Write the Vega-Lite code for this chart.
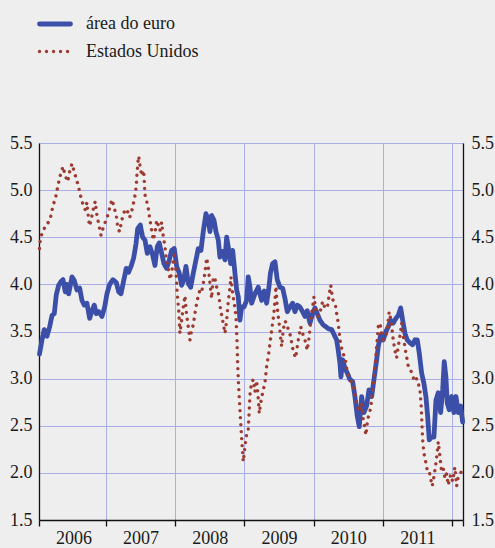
{
  "$schema": "https://vega.github.io/schema/vega-lite/v6.json",
  "width": 424,
  "height": 377,
  "autosize": "none",
  "padding": {"left": 39, "top": 143, "right": 32, "bottom": 28},
  "background": "#eeeeee",
  "config": {
    "view": {"stroke": null},
    "axis": {"labelFont": "Liberation Serif, Times New Roman, DejaVu Serif, serif", "labelFontSize": 18, "labelColor": "#1a1a1a", "domainColor": "#111111", "domainWidth": 1.3, "gridColor": "#a9aee6", "gridWidth": 1, "tickColor": "#111111", "title": null},
    "legend": {"labelFont": "Liberation Serif, Times New Roman, DejaVu Serif, serif", "labelFontSize": 18, "labelColor": "#1a1a1a"}
  },
  "datasets": {
    "d": [
      {"series":"área do euro","year":2006.039,"value":3.26},
      {"series":"área do euro","year":2006.075,"value":3.41},
      {"series":"área do euro","year":2006.108,"value":3.52},
      {"series":"área do euro","year":2006.147,"value":3.45},
      {"series":"área do euro","year":2006.186,"value":3.55},
      {"series":"área do euro","year":2006.220,"value":3.67},
      {"series":"área do euro","year":2006.253,"value":3.69},
      {"series":"área do euro","year":2006.282,"value":3.89},
      {"series":"área do euro","year":2006.316,"value":3.99},
      {"series":"área do euro","year":2006.350,"value":4.03},
      {"series":"área do euro","year":2006.379,"value":4.05},
      {"series":"área do euro","year":2006.412,"value":3.92},
      {"series":"área do euro","year":2006.436,"value":4.00},
      {"series":"área do euro","year":2006.461,"value":3.90},
      {"series":"área do euro","year":2006.509,"value":4.08},
      {"series":"área do euro","year":2006.542,"value":4.04},
      {"series":"área do euro","year":2006.581,"value":3.94},
      {"series":"área do euro","year":2006.620,"value":3.96},
      {"series":"área do euro","year":2006.653,"value":3.83},
      {"series":"área do euro","year":2006.686,"value":3.78},
      {"series":"área do euro","year":2006.725,"value":3.80},
      {"series":"área do euro","year":2006.764,"value":3.64},
      {"series":"área do euro","year":2006.798,"value":3.72},
      {"series":"área do euro","year":2006.831,"value":3.78},
      {"series":"área do euro","year":2006.860,"value":3.69},
      {"series":"área do euro","year":2006.895,"value":3.71},
      {"series":"área do euro","year":2006.942,"value":3.66},
      {"series":"área do euro","year":2006.981,"value":3.76},
      {"series":"área do euro","year":2007.014,"value":3.90},
      {"series":"área do euro","year":2007.053,"value":4.00},
      {"series":"área do euro","year":2007.101,"value":4.05},
      {"series":"área do euro","year":2007.149,"value":4.02},
      {"series":"área do euro","year":2007.184,"value":3.92},
      {"series":"área do euro","year":2007.217,"value":3.90},
      {"series":"área do euro","year":2007.256,"value":4.04},
      {"series":"área do euro","year":2007.293,"value":4.17},
      {"series":"área do euro","year":2007.328,"value":4.13},
      {"series":"área do euro","year":2007.366,"value":4.20},
      {"series":"área do euro","year":2007.400,"value":4.28},
      {"series":"área do euro","year":2007.434,"value":4.43},
      {"series":"área do euro","year":2007.458,"value":4.59},
      {"series":"área do euro","year":2007.496,"value":4.63},
      {"series":"área do euro","year":2007.530,"value":4.50},
      {"series":"área do euro","year":2007.564,"value":4.47},
      {"series":"área do euro","year":2007.597,"value":4.33},
      {"series":"área do euro","year":2007.636,"value":4.40},
      {"series":"área do euro","year":2007.675,"value":4.31},
      {"series":"área do euro","year":2007.708,"value":4.20},
      {"series":"área do euro","year":2007.741,"value":4.40},
      {"series":"área do euro","year":2007.770,"value":4.44},
      {"series":"área do euro","year":2007.805,"value":4.33},
      {"series":"área do euro","year":2007.838,"value":4.22},
      {"series":"área do euro","year":2007.877,"value":4.17},
      {"series":"área do euro","year":2007.915,"value":4.26},
      {"series":"área do euro","year":2007.949,"value":4.36},
      {"series":"área do euro","year":2007.987,"value":4.38},
      {"series":"área do euro","year":2008.022,"value":4.19},
      {"series":"área do euro","year":2008.059,"value":4.12},
      {"series":"área do euro","year":2008.094,"value":3.99},
      {"series":"área do euro","year":2008.127,"value":4.06},
      {"series":"área do euro","year":2008.156,"value":4.19},
      {"series":"área do euro","year":2008.189,"value":4.01},
      {"series":"área do euro","year":2008.224,"value":3.97},
      {"series":"área do euro","year":2008.262,"value":4.12},
      {"series":"área do euro","year":2008.301,"value":4.26},
      {"series":"área do euro","year":2008.334,"value":4.38},
      {"series":"área do euro","year":2008.373,"value":4.36},
      {"series":"área do euro","year":2008.406,"value":4.56},
      {"series":"área do euro","year":2008.445,"value":4.75},
      {"series":"área do euro","year":2008.478,"value":4.68},
      {"series":"área do euro","year":2008.503,"value":4.56},
      {"series":"área do euro","year":2008.527,"value":4.73},
      {"series":"área do euro","year":2008.561,"value":4.68},
      {"series":"área do euro","year":2008.590,"value":4.56},
      {"series":"área do euro","year":2008.623,"value":4.47},
      {"series":"área do euro","year":2008.647,"value":4.29},
      {"series":"área do euro","year":2008.686,"value":4.35},
      {"series":"área do euro","year":2008.720,"value":4.26},
      {"series":"área do euro","year":2008.744,"value":4.50},
      {"series":"área do euro","year":2008.767,"value":4.40},
      {"series":"área do euro","year":2008.802,"value":4.22},
      {"series":"área do euro","year":2008.831,"value":4.36},
      {"series":"área do euro","year":2008.864,"value":4.12},
      {"series":"área do euro","year":2008.889,"value":3.94},
      {"series":"área do euro","year":2008.912,"value":3.87},
      {"series":"área do euro","year":2008.936,"value":3.62},
      {"series":"área do euro","year":2008.961,"value":3.76},
      {"series":"área do euro","year":2008.994,"value":3.76},
      {"series":"área do euro","year":2009.033,"value":3.83},
      {"series":"área do euro","year":2009.056,"value":4.08},
      {"series":"área do euro","year":2009.081,"value":3.97},
      {"series":"área do euro","year":2009.105,"value":3.80},
      {"series":"área do euro","year":2009.153,"value":3.90},
      {"series":"área do euro","year":2009.201,"value":3.97},
      {"series":"área do euro","year":2009.250,"value":3.83},
      {"series":"área do euro","year":2009.288,"value":3.93},
      {"series":"área do euro","year":2009.322,"value":3.80},
      {"series":"área do euro","year":2009.355,"value":3.97},
      {"series":"área do euro","year":2009.377,"value":4.12},
      {"series":"área do euro","year":2009.408,"value":4.22},
      {"series":"área do euro","year":2009.442,"value":4.24},
      {"series":"área do euro","year":2009.475,"value":4.05},
      {"series":"área do euro","year":2009.514,"value":3.97},
      {"series":"área do euro","year":2009.553,"value":3.96},
      {"series":"área do euro","year":2009.587,"value":3.85},
      {"series":"área do euro","year":2009.620,"value":3.71},
      {"series":"área do euro","year":2009.659,"value":3.76},
      {"series":"área do euro","year":2009.698,"value":3.80},
      {"series":"área do euro","year":2009.731,"value":3.71},
      {"series":"área do euro","year":2009.765,"value":3.78},
      {"series":"área do euro","year":2009.803,"value":3.76},
      {"series":"área do euro","year":2009.842,"value":3.71},
      {"series":"área do euro","year":2009.876,"value":3.66},
      {"series":"área do euro","year":2009.909,"value":3.72},
      {"series":"área do euro","year":2009.948,"value":3.59},
      {"series":"área do euro","year":2009.987,"value":3.69},
      {"series":"área do euro","year":2010.020,"value":3.75},
      {"series":"área do euro","year":2010.054,"value":3.69},
      {"series":"área do euro","year":2010.092,"value":3.62},
      {"series":"área do euro","year":2010.140,"value":3.57},
      {"series":"área do euro","year":2010.179,"value":3.55},
      {"series":"área do euro","year":2010.213,"value":3.53},
      {"series":"área do euro","year":2010.262,"value":3.52},
      {"series":"área do euro","year":2010.295,"value":3.47},
      {"series":"área do euro","year":2010.334,"value":3.41},
      {"series":"área do euro","year":2010.357,"value":3.30},
      {"series":"área do euro","year":2010.382,"value":3.16},
      {"series":"área do euro","year":2010.396,"value":3.02},
      {"series":"área do euro","year":2010.421,"value":3.20},
      {"series":"área do euro","year":2010.454,"value":3.11},
      {"series":"área do euro","year":2010.487,"value":3.06},
      {"series":"área do euro","year":2010.526,"value":2.99},
      {"series":"área do euro","year":2010.565,"value":2.97},
      {"series":"área do euro","year":2010.598,"value":2.81},
      {"series":"área do euro","year":2010.632,"value":2.60},
      {"series":"área do euro","year":2010.661,"value":2.49},
      {"series":"área do euro","year":2010.695,"value":2.81},
      {"series":"área do euro","year":2010.728,"value":2.64},
      {"series":"área do euro","year":2010.767,"value":2.71},
      {"series":"área do euro","year":2010.801,"value":2.88},
      {"series":"área do euro","year":2010.840,"value":2.81},
      {"series":"área do euro","year":2010.873,"value":2.99},
      {"series":"área do euro","year":2010.912,"value":3.20},
      {"series":"área do euro","year":2010.935,"value":3.34},
      {"series":"área do euro","year":2010.970,"value":3.46},
      {"series":"área do euro","year":2011.007,"value":3.41},
      {"series":"área do euro","year":2011.046,"value":3.50},
      {"series":"área do euro","year":2011.080,"value":3.55},
      {"series":"área do euro","year":2011.114,"value":3.62},
      {"series":"área do euro","year":2011.152,"value":3.59},
      {"series":"área do euro","year":2011.191,"value":3.64},
      {"series":"área do euro","year":2011.224,"value":3.67},
      {"series":"área do euro","year":2011.259,"value":3.75},
      {"series":"área do euro","year":2011.288,"value":3.62},
      {"series":"área do euro","year":2011.321,"value":3.48},
      {"series":"área do euro","year":2011.354,"value":3.41},
      {"series":"área do euro","year":2011.393,"value":3.38},
      {"series":"área do euro","year":2011.432,"value":3.36},
      {"series":"área do euro","year":2011.465,"value":3.41},
      {"series":"área do euro","year":2011.499,"value":3.41},
      {"series":"área do euro","year":2011.528,"value":3.27},
      {"series":"área do euro","year":2011.562,"value":3.06},
      {"series":"área do euro","year":2011.595,"value":2.95},
      {"series":"área do euro","year":2011.624,"value":2.81},
      {"series":"área do euro","year":2011.649,"value":2.60},
      {"series":"área do euro","year":2011.672,"value":2.35},
      {"series":"área do euro","year":2011.707,"value":2.38},
      {"series":"área do euro","year":2011.740,"value":2.38},
      {"series":"área do euro","year":2011.769,"value":2.77},
      {"series":"área do euro","year":2011.802,"value":2.85},
      {"series":"área do euro","year":2011.837,"value":2.64},
      {"series":"área do euro","year":2011.866,"value":2.88},
      {"series":"área do euro","year":2011.889,"value":3.18},
      {"series":"área do euro","year":2011.913,"value":3.02},
      {"series":"área do euro","year":2011.932,"value":2.74},
      {"series":"área do euro","year":2011.961,"value":2.67},
      {"series":"área do euro","year":2011.996,"value":2.81},
      {"series":"área do euro","year":2012.029,"value":2.64},
      {"series":"área do euro","year":2012.058,"value":2.81},
      {"series":"área do euro","year":2012.092,"value":2.64},
      {"series":"área do euro","year":2012.126,"value":2.71},
      {"series":"área do euro","year":2012.155,"value":2.54},
      {"series":"Estados Unidos","year":2006.039,"value":4.38},
      {"series":"Estados Unidos","year":2006.054,"value":4.50},
      {"series":"Estados Unidos","year":2006.100,"value":4.58},
      {"series":"Estados Unidos","year":2006.138,"value":4.64},
      {"series":"Estados Unidos","year":2006.170,"value":4.66},
      {"series":"Estados Unidos","year":2006.196,"value":4.70},
      {"series":"Estados Unidos","year":2006.235,"value":4.84},
      {"series":"Estados Unidos","year":2006.269,"value":4.91},
      {"series":"Estados Unidos","year":2006.293,"value":5.00},
      {"series":"Estados Unidos","year":2006.318,"value":5.09},
      {"series":"Estados Unidos","year":2006.351,"value":5.19},
      {"series":"Estados Unidos","year":2006.380,"value":5.25},
      {"series":"Estados Unidos","year":2006.412,"value":5.15},
      {"series":"Estados Unidos","year":2006.447,"value":5.09},
      {"series":"Estados Unidos","year":2006.485,"value":5.23},
      {"series":"Estados Unidos","year":2006.509,"value":5.28},
      {"series":"Estados Unidos","year":2006.542,"value":5.19},
      {"series":"Estados Unidos","year":2006.571,"value":5.12},
      {"series":"Estados Unidos","year":2006.605,"value":5.03},
      {"series":"Estados Unidos","year":2006.629,"value":4.95},
      {"series":"Estados Unidos","year":2006.663,"value":4.86},
      {"series":"Estados Unidos","year":2006.701,"value":4.79},
      {"series":"Estados Unidos","year":2006.725,"value":4.87},
      {"series":"Estados Unidos","year":2006.750,"value":4.68},
      {"series":"Estados Unidos","year":2006.764,"value":4.62},
      {"series":"Estados Unidos","year":2006.798,"value":4.73},
      {"series":"Estados Unidos","year":2006.822,"value":4.82},
      {"series":"Estados Unidos","year":2006.845,"value":4.88},
      {"series":"Estados Unidos","year":2006.870,"value":4.73},
      {"series":"Estados Unidos","year":2006.895,"value":4.64},
      {"series":"Estados Unidos","year":2006.928,"value":4.52},
      {"series":"Estados Unidos","year":2006.967,"value":4.62},
      {"series":"Estados Unidos","year":2007.000,"value":4.68},
      {"series":"Estados Unidos","year":2007.025,"value":4.73},
      {"series":"Estados Unidos","year":2007.053,"value":4.81},
      {"series":"Estados Unidos","year":2007.087,"value":4.90},
      {"series":"Estados Unidos","year":2007.120,"value":4.81},
      {"series":"Estados Unidos","year":2007.149,"value":4.73},
      {"series":"Estados Unidos","year":2007.173,"value":4.59},
      {"series":"Estados Unidos","year":2007.198,"value":4.56},
      {"series":"Estados Unidos","year":2007.217,"value":4.64},
      {"series":"Estados Unidos","year":2007.246,"value":4.73},
      {"series":"Estados Unidos","year":2007.279,"value":4.80},
      {"series":"Estados Unidos","year":2007.314,"value":4.77},
      {"series":"Estados Unidos","year":2007.343,"value":4.71},
      {"series":"Estados Unidos","year":2007.376,"value":4.79},
      {"series":"Estados Unidos","year":2007.400,"value":4.87},
      {"series":"Estados Unidos","year":2007.424,"value":4.96},
      {"series":"Estados Unidos","year":2007.438,"value":5.05},
      {"series":"Estados Unidos","year":2007.448,"value":5.17},
      {"series":"Estados Unidos","year":2007.462,"value":5.30},
      {"series":"Estados Unidos","year":2007.473,"value":5.36},
      {"series":"Estados Unidos","year":2007.496,"value":5.23},
      {"series":"Estados Unidos","year":2007.520,"value":5.15},
      {"series":"Estados Unidos","year":2007.545,"value":5.21},
      {"series":"Estados Unidos","year":2007.564,"value":4.95},
      {"series":"Estados Unidos","year":2007.589,"value":4.88},
      {"series":"Estados Unidos","year":2007.612,"value":4.80},
      {"series":"Estados Unidos","year":2007.636,"value":4.68},
      {"series":"Estados Unidos","year":2007.661,"value":4.57},
      {"series":"Estados Unidos","year":2007.684,"value":4.47},
      {"series":"Estados Unidos","year":2007.708,"value":4.54},
      {"series":"Estados Unidos","year":2007.733,"value":4.68},
      {"series":"Estados Unidos","year":2007.756,"value":4.63},
      {"series":"Estados Unidos","year":2007.780,"value":4.57},
      {"series":"Estados Unidos","year":2007.805,"value":4.66},
      {"series":"Estados Unidos","year":2007.828,"value":4.51},
      {"series":"Estados Unidos","year":2007.853,"value":4.40},
      {"series":"Estados Unidos","year":2007.877,"value":4.24},
      {"series":"Estados Unidos","year":2007.900,"value":4.17},
      {"series":"Estados Unidos","year":2007.925,"value":4.05},
      {"series":"Estados Unidos","year":2007.949,"value":4.12},
      {"series":"Estados Unidos","year":2007.973,"value":4.26},
      {"series":"Estados Unidos","year":2007.987,"value":4.31},
      {"series":"Estados Unidos","year":2008.012,"value":4.13},
      {"series":"Estados Unidos","year":2008.030,"value":3.90},
      {"series":"Estados Unidos","year":2008.051,"value":3.73},
      {"series":"Estados Unidos","year":2008.069,"value":3.48},
      {"series":"Estados Unidos","year":2008.094,"value":3.62},
      {"series":"Estados Unidos","year":2008.117,"value":3.76},
      {"series":"Estados Unidos","year":2008.142,"value":3.88},
      {"series":"Estados Unidos","year":2008.166,"value":3.67},
      {"series":"Estados Unidos","year":2008.189,"value":3.55},
      {"series":"Estados Unidos","year":2008.214,"value":3.41},
      {"series":"Estados Unidos","year":2008.239,"value":3.52},
      {"series":"Estados Unidos","year":2008.262,"value":3.57},
      {"series":"Estados Unidos","year":2008.286,"value":3.69},
      {"series":"Estados Unidos","year":2008.311,"value":3.80},
      {"series":"Estados Unidos","year":2008.334,"value":3.88},
      {"series":"Estados Unidos","year":2008.358,"value":3.94},
      {"series":"Estados Unidos","year":2008.383,"value":3.92},
      {"series":"Estados Unidos","year":2008.406,"value":4.01},
      {"series":"Estados Unidos","year":2008.431,"value":4.13},
      {"series":"Estados Unidos","year":2008.455,"value":4.28},
      {"series":"Estados Unidos","year":2008.478,"value":4.19},
      {"series":"Estados Unidos","year":2008.503,"value":4.01},
      {"series":"Estados Unidos","year":2008.527,"value":3.85},
      {"series":"Estados Unidos","year":2008.551,"value":4.08},
      {"series":"Estados Unidos","year":2008.575,"value":4.06},
      {"series":"Estados Unidos","year":2008.600,"value":3.97},
      {"series":"Estados Unidos","year":2008.633,"value":3.88},
      {"series":"Estados Unidos","year":2008.657,"value":3.73},
      {"series":"Estados Unidos","year":2008.686,"value":3.62},
      {"series":"Estados Unidos","year":2008.720,"value":3.48},
      {"series":"Estados Unidos","year":2008.744,"value":3.62},
      {"series":"Estados Unidos","year":2008.767,"value":3.82},
      {"series":"Estados Unidos","year":2008.792,"value":3.97},
      {"series":"Estados Unidos","year":2008.806,"value":4.08},
      {"series":"Estados Unidos","year":2008.831,"value":3.90},
      {"series":"Estados Unidos","year":2008.854,"value":3.80},
      {"series":"Estados Unidos","year":2008.879,"value":3.66},
      {"series":"Estados Unidos","year":2008.893,"value":3.41},
      {"series":"Estados Unidos","year":2008.903,"value":3.16},
      {"series":"Estados Unidos","year":2008.918,"value":2.91},
      {"series":"Estados Unidos","year":2008.936,"value":2.67},
      {"series":"Estados Unidos","year":2008.951,"value":2.49},
      {"series":"Estados Unidos","year":2008.965,"value":2.32},
      {"series":"Estados Unidos","year":2008.984,"value":2.12},
      {"series":"Estados Unidos","year":2009.009,"value":2.28},
      {"series":"Estados Unidos","year":2009.033,"value":2.41},
      {"series":"Estados Unidos","year":2009.056,"value":2.46},
      {"series":"Estados Unidos","year":2009.071,"value":2.67},
      {"series":"Estados Unidos","year":2009.081,"value":2.83},
      {"series":"Estados Unidos","year":2009.105,"value":2.96},
      {"series":"Estados Unidos","year":2009.129,"value":2.99},
      {"series":"Estados Unidos","year":2009.153,"value":2.86},
      {"series":"Estados Unidos","year":2009.177,"value":2.98},
      {"series":"Estados Unidos","year":2009.201,"value":2.79},
      {"series":"Estados Unidos","year":2009.216,"value":2.63},
      {"series":"Estados Unidos","year":2009.236,"value":2.74},
      {"series":"Estados Unidos","year":2009.265,"value":2.85},
      {"series":"Estados Unidos","year":2009.298,"value":2.96},
      {"series":"Estados Unidos","year":2009.322,"value":3.13},
      {"series":"Estados Unidos","year":2009.345,"value":3.23},
      {"series":"Estados Unidos","year":2009.360,"value":3.32},
      {"series":"Estados Unidos","year":2009.384,"value":3.45},
      {"series":"Estados Unidos","year":2009.408,"value":3.59},
      {"series":"Estados Unidos","year":2009.427,"value":3.69},
      {"series":"Estados Unidos","year":2009.442,"value":3.83},
      {"series":"Estados Unidos","year":2009.457,"value":3.98},
      {"series":"Estados Unidos","year":2009.475,"value":3.76},
      {"series":"Estados Unidos","year":2009.504,"value":3.58},
      {"series":"Estados Unidos","year":2009.525,"value":3.43},
      {"series":"Estados Unidos","year":2009.539,"value":3.34},
      {"series":"Estados Unidos","year":2009.562,"value":3.52},
      {"series":"Estados Unidos","year":2009.587,"value":3.61},
      {"series":"Estados Unidos","year":2009.611,"value":3.59},
      {"series":"Estados Unidos","year":2009.634,"value":3.52},
      {"series":"Estados Unidos","year":2009.669,"value":3.45},
      {"series":"Estados Unidos","year":2009.692,"value":3.34},
      {"series":"Estados Unidos","year":2009.717,"value":3.27},
      {"series":"Estados Unidos","year":2009.741,"value":3.22},
      {"series":"Estados Unidos","year":2009.765,"value":3.34},
      {"series":"Estados Unidos","year":2009.789,"value":3.45},
      {"series":"Estados Unidos","year":2009.814,"value":3.55},
      {"series":"Estados Unidos","year":2009.842,"value":3.48},
      {"series":"Estados Unidos","year":2009.876,"value":3.41},
      {"series":"Estados Unidos","year":2009.909,"value":3.30},
      {"series":"Estados Unidos","year":2009.938,"value":3.45},
      {"series":"Estados Unidos","year":2009.958,"value":3.61},
      {"series":"Estados Unidos","year":2009.987,"value":3.76},
      {"series":"Estados Unidos","year":2010.006,"value":3.87},
      {"series":"Estados Unidos","year":2010.035,"value":3.71},
      {"series":"Estados Unidos","year":2010.068,"value":3.66},
      {"series":"Estados Unidos","year":2010.103,"value":3.73},
      {"series":"Estados Unidos","year":2010.132,"value":3.82},
      {"series":"Estados Unidos","year":2010.165,"value":3.75},
      {"series":"Estados Unidos","year":2010.199,"value":3.75},
      {"series":"Estados Unidos","year":2010.228,"value":3.90},
      {"series":"Estados Unidos","year":2010.248,"value":3.99},
      {"series":"Estados Unidos","year":2010.277,"value":3.84},
      {"series":"Estados Unidos","year":2010.315,"value":3.78},
      {"series":"Estados Unidos","year":2010.334,"value":3.69},
      {"series":"Estados Unidos","year":2010.357,"value":3.59},
      {"series":"Estados Unidos","year":2010.382,"value":3.41},
      {"series":"Estados Unidos","year":2010.421,"value":3.27},
      {"series":"Estados Unidos","year":2010.454,"value":3.23},
      {"series":"Estados Unidos","year":2010.487,"value":3.07},
      {"series":"Estados Unidos","year":2010.526,"value":2.99},
      {"series":"Estados Unidos","year":2010.565,"value":2.95},
      {"series":"Estados Unidos","year":2010.598,"value":2.84},
      {"series":"Estados Unidos","year":2010.632,"value":2.70},
      {"series":"Estados Unidos","year":2010.671,"value":2.65},
      {"series":"Estados Unidos","year":2010.695,"value":2.74},
      {"series":"Estados Unidos","year":2010.718,"value":2.57},
      {"series":"Estados Unidos","year":2010.757,"value":2.40},
      {"series":"Estados Unidos","year":2010.782,"value":2.57},
      {"series":"Estados Unidos","year":2010.815,"value":2.65},
      {"series":"Estados Unidos","year":2010.840,"value":2.77},
      {"series":"Estados Unidos","year":2010.864,"value":2.95},
      {"series":"Estados Unidos","year":2010.889,"value":3.13},
      {"series":"Estados Unidos","year":2010.912,"value":3.34},
      {"series":"Estados Unidos","year":2010.935,"value":3.55},
      {"series":"Estados Unidos","year":2010.960,"value":3.59},
      {"series":"Estados Unidos","year":2010.982,"value":3.48},
      {"series":"Estados Unidos","year":2011.007,"value":3.41},
      {"series":"Estados Unidos","year":2011.056,"value":3.48},
      {"series":"Estados Unidos","year":2011.093,"value":3.71},
      {"series":"Estados Unidos","year":2011.118,"value":3.62},
      {"series":"Estados Unidos","year":2011.152,"value":3.41},
      {"series":"Estados Unidos","year":2011.176,"value":3.30},
      {"series":"Estados Unidos","year":2011.201,"value":3.22},
      {"series":"Estados Unidos","year":2011.224,"value":3.34},
      {"series":"Estados Unidos","year":2011.249,"value":3.45},
      {"series":"Estados Unidos","year":2011.273,"value":3.59},
      {"series":"Estados Unidos","year":2011.296,"value":3.45},
      {"series":"Estados Unidos","year":2011.331,"value":3.29},
      {"series":"Estados Unidos","year":2011.369,"value":3.13},
      {"series":"Estados Unidos","year":2011.403,"value":3.09},
      {"series":"Estados Unidos","year":2011.432,"value":3.04},
      {"series":"Estados Unidos","year":2011.455,"value":2.97},
      {"series":"Estados Unidos","year":2011.490,"value":3.00},
      {"series":"Estados Unidos","year":2011.513,"value":2.95},
      {"series":"Estados Unidos","year":2011.538,"value":2.88},
      {"series":"Estados Unidos","year":2011.557,"value":2.70},
      {"series":"Estados Unidos","year":2011.566,"value":2.53},
      {"series":"Estados Unidos","year":2011.577,"value":2.35},
      {"series":"Estados Unidos","year":2011.595,"value":2.21},
      {"series":"Estados Unidos","year":2011.620,"value":2.12},
      {"series":"Estados Unidos","year":2011.643,"value":2.03},
      {"series":"Estados Unidos","year":2011.668,"value":2.03},
      {"series":"Estados Unidos","year":2011.692,"value":1.94},
      {"series":"Estados Unidos","year":2011.716,"value":1.86},
      {"series":"Estados Unidos","year":2011.740,"value":1.96},
      {"series":"Estados Unidos","year":2011.769,"value":2.10},
      {"series":"Estados Unidos","year":2011.802,"value":2.33},
      {"series":"Estados Unidos","year":2011.827,"value":2.17},
      {"series":"Estados Unidos","year":2011.851,"value":2.02},
      {"series":"Estados Unidos","year":2011.874,"value":2.05},
      {"series":"Estados Unidos","year":2011.899,"value":1.94},
      {"series":"Estados Unidos","year":2011.923,"value":1.99},
      {"series":"Estados Unidos","year":2011.946,"value":1.87},
      {"series":"Estados Unidos","year":2011.981,"value":1.98},
      {"series":"Estados Unidos","year":2012.010,"value":1.91},
      {"series":"Estados Unidos","year":2012.043,"value":2.06},
      {"series":"Estados Unidos","year":2012.068,"value":1.86},
      {"series":"Estados Unidos","year":2012.092,"value":1.96},
      {"series":"Estados Unidos","year":2012.116,"value":1.99},
      {"series":"Estados Unidos","year":2012.155,"value":2.03}
    ]
  },
  "data": {"name": "d"},
  "encoding": {
    "x": {
      "field": "year", "type": "quantitative",
      "scale": {"domain": [2006.032, 2012.16], "nice": false, "zero": false},
      "axis": {
        "values": [2006.032, 2007, 2008, 2009, 2010, 2011, 2012, 2012.16],
        "grid": true, "tickSize": 6, "tickWidth": 1.3, "labelOffset": 34.6, "labelPadding": 3,
        "labelExpr": "datum.value >= 2011.99 ? '' : '' + floor(datum.value)",
        "labelBound": false, "labelOverlap": false, "labelFlush": false
      }
    },
    "color": {
      "field": "series", "type": "nominal",
      "scale": {"domain": ["área do euro", "Estados Unidos"], "range": ["#3b4fa8", "#9e3b30"]},
      "legend": {
        "title": null, "orient": "none", "legendX": -2, "legendY": -137, "padding": 0,
        "symbolType": "stroke", "symbolSize": 961, "labelOffset": 13, "rowPadding": -9,
        "encode": {"symbols": {"update": {"strokeCap": {"value": "round"}}}}
      }
    },
    "strokeDash": {
      "field": "series", "type": "nominal",
      "scale": {"domain": ["área do euro", "Estados Unidos"], "range": [[1, 0], [0.01, 7]]}
    },
    "strokeWidth": {
      "field": "series", "type": "nominal",
      "scale": {"domain": ["área do euro", "Estados Unidos"], "range": [4.8, 3.4]}
    }
  },
  "layer": [
    {
      "transform": [{"filter": "datum.series == 'área do euro'"}],
      "mark": {"type": "line", "strokeJoin": "round", "strokeCap": "round"},
      "encoding": {
        "y": {
          "field": "value", "type": "quantitative",
          "scale": {"domain": [1.5, 5.5], "nice": false, "zero": false},
          "axis": {"orient": "left", "values": [1.5, 2, 2.5, 3, 3.5, 4, 4.5, 5, 5.5], "format": ".1f", "ticks": false, "labelPadding": 7, "grid": true}
        }
      }
    },
    {
      "transform": [{"filter": "datum.series == 'Estados Unidos'"}],
      "mark": {"type": "line", "strokeJoin": "round", "strokeCap": "round"},
      "encoding": {
        "y": {
          "field": "value", "type": "quantitative",
          "scale": {"domain": [1.5, 5.5], "nice": false, "zero": false},
          "axis": {"orient": "right", "values": [1.5, 2, 2.5, 3, 3.5, 4, 4.5, 5, 5.5], "format": ".1f", "ticks": false, "labelPadding": 8, "grid": false}
        }
      }
    }
  ],
  "resolve": {"axis": {"y": "independent"}}
}
